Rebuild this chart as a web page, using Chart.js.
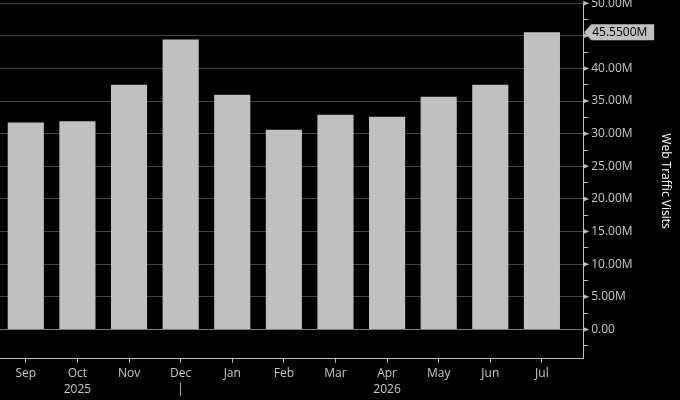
<!DOCTYPE html>
<html lang="en">
<head>
  <meta charset="UTF-8">
  <title>Web Traffic Visits</title>
  <script src="https://cdn.jsdelivr.net/npm/chart.js"></script>
  <style>
    html, body {
      margin: 0;
      padding: 0;
      background: #000;
      overflow: hidden;
    }
    .wrap {
      position: absolute;
      left: 0;
      top: -7px;
      width: 680px;
      height: 407px;
    }
  </style>
</head>
<body>
  <div class="wrap"><canvas id="chart"></canvas></div>

  <script>
    // monthly web traffic, millions
    const months = ['Sep', 'Oct', 'Nov', 'Dec', 'Jan', 'Feb', 'Mar', 'Apr', 'May', 'Jun', 'Jul'];
    const years = ['', '2025', '', '|', '', '', '', '2026', '', '', ''];
    const visits = [31.7, 31.9, 37.5, 44.45, 35.95, 30.6, 32.9, 32.6, 35.65, 37.5, 45.55];
    const yTicks = [-2.5, 0, 2.5, 5, 7.5, 10, 12.5, 15, 17.5, 20, 22.5, 25, 27.5, 30,
                    32.5, 35, 37.5, 40, 42.5, 45, 47.5, 50];

    const lastVal = visits[visits.length - 1];
    const axisGrey = '#bdbdbd';
    const textGrey = '#c8c8c8';
    const fontFamily = "'Open Sans', sans-serif";

    function isMajor(v) {
      return Math.abs(v % 5) < 1e-9;
    }

    // little arrows on major ticks + the last value tag
    const axisMarks = {
      id: 'axisMarks',
      afterDraw(chart) {
        const ctx = chart.ctx;
        const y = chart.scales.y;
        const x0 = chart.chartArea.right;
        ctx.save();
        ctx.fillStyle = axisGrey;
        y.ticks.forEach(t => {
          if (!isMajor(t.value)) return;
          const py = y.getPixelForValue(t.value);
          ctx.beginPath();
          ctx.moveTo(x0, py - 2.5);
          ctx.lineTo(x0 + 6, py);
          ctx.lineTo(x0, py + 2.5);
          ctx.closePath();
          ctx.fill();
        });

        const py = y.getPixelForValue(lastVal);
        const w = 71;
        ctx.fillStyle = '#c0c0c0';
        ctx.beginPath();
        ctx.moveTo(x0 + 1, py);
        ctx.lineTo(x0 + 8, py - 8);
        ctx.lineTo(x0 + w, py - 8);
        ctx.lineTo(x0 + w, py + 8);
        ctx.lineTo(x0 + 8, py + 8);
        ctx.closePath();
        ctx.fill();
        ctx.fillStyle = '#000';
        ctx.font = '12px ' + fontFamily;
        ctx.textBaseline = 'middle';
        ctx.textAlign = 'left';
        ctx.fillText(lastVal.toFixed(4) + 'M', x0 + 9, py + 0.5);
        ctx.restore();
      }
    };

    new Chart(document.getElementById('chart'), {
      type: 'bar',
      data: {
        datasets: [{
          label: 'Web Traffic Visits',
          data: visits.map((v, i) => ({ x: i, y: v })),
          backgroundColor: '#c0c0c0',
          categoryPercentage: 1,
          barPercentage: 0.7
        }]
      },
      options: {
        responsive: true,
        maintainAspectRatio: false,
        animation: false,
        layout: { padding: { left: 0, right: 3, top: 0, bottom: 0 } },
        plugins: {
          legend: { display: false },
          tooltip: { enabled: false }
        },
        scales: {
          x: {
            type: 'linear',
            offset: false,
            min: -0.5,
            max: 10.8,
            afterBuildTicks: s => { s.ticks = months.map((m, i) => ({ value: i })); },
            border: { color: axisGrey },
            grid: {
              offset: false,
              drawOnChartArea: false,
              tickLength: 4,
              tickColor: axisGrey
            },
            ticks: {
              autoSkip: false,
              maxRotation: 0,
              padding: 3,
              color: textGrey,
              font: { family: fontFamily, size: 12, lineHeight: 1.3 },
              callback: (v, i) => years[i] ? [months[i], years[i]] : months[i]
            }
          },
          y: {
            position: 'right',
            min: -4.5,
            max: 50,
            afterBuildTicks: s => { s.ticks = yTicks.map(v => ({ value: v })); },
            border: { color: axisGrey },
            grid: {
              color: c => c.tick.value === 0 ? '#7a7a7a' : (isMajor(c.tick.value) ? '#444444' : 'transparent'),
              tickLength: 5,
              tickColor: c => isMajor(c.tick.value) ? 'transparent' : axisGrey
            },
            ticks: {
              autoSkip: false,
              padding: 3,
              color: textGrey,
              font: { family: fontFamily, size: 12 },
              callback: v => {
                if (!isMajor(v) || Math.abs(v - lastVal) < 2) return '';
                return v === 0 ? '0.00' : v.toFixed(2) + 'M';
              }
            },
            title: {
              display: true,
              text: 'Web Traffic Visits',
              color: '#ffffff',
              font: { family: fontFamily, size: 12 },
              padding: { top: 4, bottom: 23 }
            }
          }
        }
      },
      plugins: [axisMarks]
    });
  </script>
</body>
</html>
